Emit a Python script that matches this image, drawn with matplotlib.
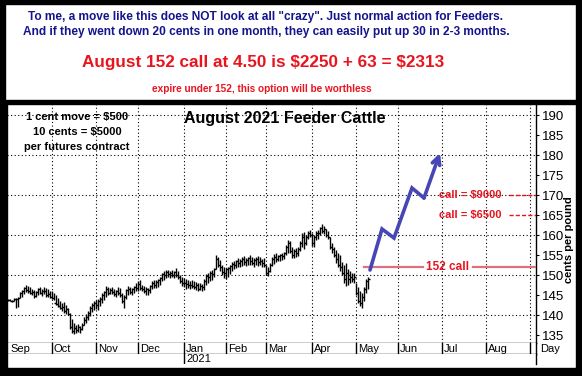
import matplotlib
matplotlib.use("Agg")
import matplotlib.pyplot as plt
import numpy as np
import pandas as pd
from matplotlib.patches import Rectangle

plt.rcParams['font.family'] = ['Liberation Sans', 'DejaVu Sans']
plt.rcParams['text.parse_math'] = False

# ---------------- data (cents per pound) ----------------
high_sep = [144.0,144.0,143.8,144.2,144.3,144.5,145.8,146.3,147.0,147.6,147.3,146.9,146.6,146.2,146.0,146.8,147.0,146.5,147.1,146.8,146.5,146.0]
low_sep  = [143.5,143.4,143.3,143.5,141.8,142.0,144.2,144.5,145.2,145.8,145.6,145.2,145.0,144.3,144.5,145.0,145.3,144.8,145.2,144.6,144.4,144.2]
close_sep= [143.7,143.6,143.6,143.9,143.9,144.3,145.5,146.0,146.8,146.2,146.0,145.6,145.8,144.8,145.8,146.5,145.6,146.0,146.1,145.0,145.3,144.6]

high_oct = [146.0,145.5,145.0,144.3,143.5,143.0,143.2,142.5,141.8,140.5,139.0,138.0,137.5,137.8,137.2,138.0,139.5,140.2,141.0,142.3,143.0,143.6]
low_oct  = [144.0,143.8,142.5,142.0,141.5,141.0,140.6,140.3,140.0,136.5,135.5,135.3,135.5,135.8,135.6,136.3,137.5,138.0,138.8,139.8,140.8,141.3]
close_oct= [144.3,143.0,142.8,142.2,141.8,142.0,141.0,141.5,140.3,137.0,136.0,136.8,136.2,137.0,136.5,137.5,138.8,139.5,140.5,141.8,142.5,143.0]

high_nov = [143.8,144.0,144.5,145.5,146.0,147.2,147.0,146.8,147.1,146.5,146.3,147.0,146.8,145.5,145.0,146.5,147.2,147.0,146.8,147.3,148.0]
low_nov  = [141.5,141.3,142.2,143.0,143.8,144.5,145.0,145.2,145.3,144.8,144.6,145.0,144.5,143.0,141.8,144.0,145.0,145.3,145.0,145.6,146.0]
close_nov= [142.5,143.5,144.0,145.0,145.8,146.5,145.5,146.3,145.8,145.3,146.0,145.6,145.0,143.5,144.5,146.2,146.5,145.8,146.5,147.0,146.8]

high_dec = [148.5,148.8,147.5,147.3,147.0,146.8,147.5,148.5,148.8,148.8,149.0,149.5,150.5,151.0,151.3,151.3,151.0,151.3,151.0,151.8,151.0,150.0,149.5]
low_dec  = [146.0,146.3,146.0,145.5,145.0,145.0,145.5,146.5,146.8,146.8,147.0,147.5,148.5,148.8,149.3,149.5,149.3,149.5,149.3,149.5,149.0,148.0,147.3]
close_dec= [147.8,146.8,146.5,146.0,146.5,146.2,147.3,148.0,147.5,148.3,148.8,149.3,150.3,150.0,150.8,150.3,150.6,150.0,150.8,150.0,149.5,148.6,148.0]

high_jan = [149.3,149.0,148.8,148.5,148.7,148.5,148.3,148.0,148.0,147.8,149.0,150.3,150.5,151.0,151.3,151.8,155.0,154.5,153.8,152.5,152.0]
low_jan  = [147.0,146.5,146.8,146.5,146.8,146.5,146.3,146.0,146.2,146.0,146.3,147.5,148.0,148.5,148.8,149.5,151.5,152.0,151.0,150.0,149.3]
close_jan= [148.0,147.8,147.5,147.6,147.3,147.0,147.5,146.6,147.3,147.0,148.6,149.8,149.5,150.6,150.2,151.5,154.0,152.6,152.0,150.8,150.5]

high_feb = [151.8,152.0,152.5,153.3,153.5,153.8,154.3,154.0,154.5,154.8,154.3,154.6,155.0,154.5,154.2,154.6,154.8,154.5,154.0,154.3]
low_feb  = [149.0,149.5,150.3,151.0,151.5,151.8,152.0,152.0,152.3,152.5,152.3,152.5,152.6,152.4,152.0,152.5,152.3,152.5,152.0,152.0]
close_feb= [151.5,151.8,152.3,152.8,152.5,153.5,153.0,153.5,154.0,153.3,153.8,154.2,153.5,153.0,153.8,154.0,153.3,153.5,153.0,152.5]

high_mar = [152.5,152.0,153.0,154.5,155.3,155.5,155.0,155.3,155.6,155.8,157.5,158.8,158.5,157.0,156.5,156.8,157.0,158.5,160.5,160.8,160.0,161.0,161.2]
low_mar  = [150.0,149.8,150.8,152.3,152.8,153.3,153.5,153.6,153.8,154.0,155.0,155.5,155.5,154.3,154.3,154.5,154.8,156.0,157.0,156.5,157.5,159.0,159.5]
close_mar= [150.5,151.0,152.5,154.0,154.5,154.0,154.8,155.0,154.8,155.5,157.0,158.0,156.0,155.0,156.0,155.5,156.5,158.0,159.5,158.0,159.5,160.5,160.0]

high_apr = [160.5,160.0,161.0,161.3,162.0,162.8,162.3,161.5,161.0,159.5,158.0,157.0,156.3,155.5,155.0,153.2,152.5,153.0,151.5,151.0,150.5,150.5]
low_apr  = [157.3,157.0,158.8,159.0,160.0,160.5,160.2,159.5,159.0,156.5,155.5,154.5,153.0,152.0,151.0,150.0,148.0,147.2,147.5,148.0,148.2,148.0]
close_apr= [158.0,159.5,160.5,160.5,161.8,161.0,161.5,160.0,159.5,157.0,156.5,155.0,154.0,152.5,152.0,150.5,149.0,150.5,149.0,149.5,149.0,149.5]

high_may = [148.0,147.0,146.0,145.5,147.0,149.0,149.5]
low_may  = [145.0,143.0,142.2,141.8,143.5,145.5,146.5]
close_may= [145.5,143.5,143.0,144.5,146.5,148.5,149.0]

# projected path (blue arrow)
proj_dates = ["2021-05-12", "2021-05-20", "2021-05-28", "2021-06-10", "2021-06-18", "2021-06-30"]
proj_price = [151.25, 161.5, 159.25, 171.75, 169.25, 180.5]

strike = 152
call_levels = [170, 165]
dollars_per_cent = 500

month_labels = ["Sep", "Oct", "Nov", "Dec", "Jan", "Feb", "Mar", "Apr", "May", "Jun", "Jul", "Aug"]
year_label = "2021"

# ---------------- assemble ----------------
high = high_sep + high_oct + high_nov + high_dec + high_jan + high_feb + high_mar + high_apr + high_may
low = low_sep + low_oct + low_nov + low_dec + low_jan + low_feb + low_mar + low_apr + low_may
close = close_sep + close_oct + close_nov + close_dec + close_jan + close_feb + close_mar + close_apr + close_may

all_days = pd.bdate_range("2020-09-01", "2021-09-30")
pos = pd.Series(np.arange(len(all_days)), index=all_days)
x = np.arange(len(high))

month_first = all_days.to_series().groupby([all_days.year, all_days.month]).first()
month_pos = [pos[d] for d in month_first.values]

proj_x = [pos[pd.Timestamp(d)] for d in proj_dates]

# ---------------- figure ----------------
W, H = 582, 376
def fx(v): return v / W
def fy(v): return 1 - v / H

fig = plt.figure(figsize=(W / 100, H / 100), dpi=100)
fig.patch.set_facecolor('white')

L, R, T, B = 7, 536, 104, 343
ax = fig.add_axes([fx(L), fy(B), fx(R) - fx(L), (B - T) / H])
ax.set_xlim(-0.5, 264)
ax.set_ylim(133, 192.75)

dot = (0, (1, 2.2))
for g in range(140, 191, 10):
    ax.axhline(g, color='black', lw=0.8, ls=dot, zorder=0)
for mp in month_pos[1:]:
    ax.axvline(mp, color='black', lw=0.8, ls=dot, zorder=0)

ax.vlines(x, low, high, color='black', lw=1.0, zorder=2)
ax.hlines(close, x, x + 0.75, color='black', lw=1.0, zorder=2)

# projection arrow
blue = '#4646b4'
ax.plot(proj_x[:-1], proj_price[:-1], color=blue, lw=2.6, solid_capstyle='round',
        solid_joinstyle='miter', zorder=4)
ax.annotate('', xy=(proj_x[-1], proj_price[-1]), xytext=(proj_x[-2], proj_price[-2]),
            arrowprops=dict(arrowstyle='->', color=blue, lw=2.6, mutation_scale=14,
                            shrinkA=0, shrinkB=0), zorder=4)

# strike line
red = '#e8141e'
pink = '#e0707c'
ax.plot([x[-1] - 2, 207.5], [strike, strike], color=pink, lw=1.6, zorder=3)
ax.plot([232.5, 264], [strike, strike], color=pink, lw=1.6, zorder=3)
ax.text(220, strike, f"{strike} call", color=red, fontsize=8.5, fontweight='bold',
        ha='center', va='center', zorder=5)
for lvl in call_levels:
    ax.text(215.5, lvl, f"call = ${(lvl - strike) * dollars_per_cent}", color=red,
            fontsize=8, fontweight='bold', ha='left', va='center', zorder=5)
    ax.plot([250.5, 264], [lvl, lvl], color=red, lw=1.0, ls=(0, (3, 1.5)), zorder=3)

# axes styling
ax.set_xticks([])
ax.yaxis.tick_right()
ax.set_yticks(range(135, 191, 5))
ax.tick_params(axis='y', direction='out', length=2.5, pad=1.5, labelsize=9.5, width=0.8)
for s in ['left', 'top']:
    ax.spines[s].set_visible(False)
for s in ['right', 'bottom']:
    ax.spines[s].set_linewidth(1.0)

fig.text(fx(285), fy(119), "August 2021 Feeder Cattle", ha='center', va='center',
         fontsize=11.5, fontweight='bold')

for i, t in enumerate(["1 cent move = $500", "10 cents = $5000", "per futures contract"]):
    fig.text(fx(77), fy(117 + 15 * i), t, ha='center', va='center', fontsize=8, fontweight='bold')

# month strip
axm = fig.add_axes([fx(L), fy(354), fx(R) - fx(L), (354 - B) / H], sharex=ax)
axm.set_ylim(0, 1)
axm.set_xticks([]); axm.set_yticks([])
for s in ['left', 'top']:
    axm.spines[s].set_visible(False)
axm.spines['right'].set_linewidth(1.0)
axm.spines['bottom'].set_linewidth(1.0)
for i, mp in enumerate(month_pos):
    if mp > 0:
        axm.axvline(mp, color='black', lw=1.0)
    if i < len(month_labels):
        axm.text(mp + 1.0, 0.45, month_labels[i], fontsize=8, ha='left', va='center')

# year strip
axy = fig.add_axes([fx(L), fy(364), fx(R) - fx(L), (364 - 354) / H], sharex=ax)
axy.set_ylim(0, 1)
axy.set_xticks([]); axy.set_yticks([])
for s in ['left', 'top', 'bottom']:
    axy.spines[s].set_visible(False)
axy.spines['right'].set_linewidth(1.0)
jan_pos = month_pos[4]
axy.axvline(jan_pos, color='black', lw=1.0)
axy.text(jan_pos + 1.0, 0.45, year_label, fontsize=8, ha='left', va='center')

fig.text(fx(540), fy(349), "Day", fontsize=8, ha='left', va='center')
fig.text(fx(569.5), fy(240), "cents per pound", rotation=90, fontsize=8, fontweight='bold',
         ha='center', va='center')

# header texts
navy = '#14148c'
fig.text(fx(265), fy(17), 'To me, a move like this does NOT look at all "crazy". Just normal action for Feeders.',
         color=navy, fontsize=8.6, fontweight='bold', ha='center', va='center')
fig.text(fx(266), fy(32), 'And if they went down 20 cents in one month, they can easily put up 30 in 2-3 months.',
         color=navy, fontsize=8.6, fontweight='bold', ha='center', va='center')
fig.text(fx(263), fy(63), 'August 152 call at 4.50 is $2250 + 63 = $2313',
         color=red, fontsize=12.3, fontweight='bold', ha='center', va='center')
fig.text(fx(262), fy(89), 'expire under 152, this option will be worthless',
         color=red, fontsize=7.2, fontweight='bold', ha='center', va='center')

# borders
def band(x0, y0, x1, y1):
    fig.patches.append(Rectangle((fx(x0), fy(y1)), fx(x1) - fx(x0), (y1 - y0) / H,
                                 transform=fig.transFigure, color='black', zorder=10))
band(0, 0, W, 4)
band(0, 368, W, H)
band(0, 0, 5, H)
band(576, 0, W, H)
band(0, 100, W, 104)
band(5, 104, 7, 368)

fig.savefig("out.png", dpi=100)
